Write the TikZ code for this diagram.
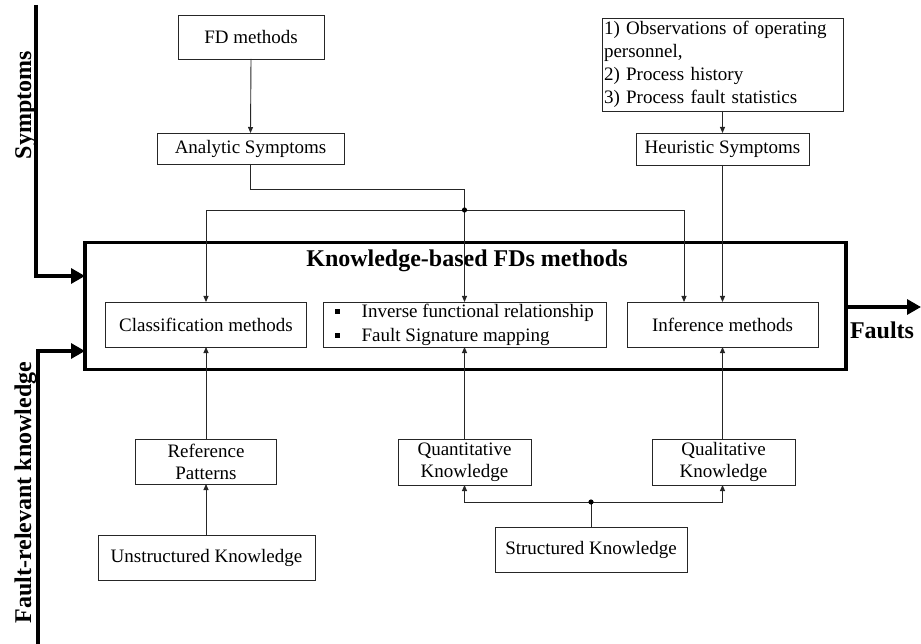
\documentclass[tikz,border=0pt]{standalone}
\usepackage{fontspec}
\setmainfont{Liberation Serif}
\usetikzlibrary{arrows.meta}

\newcommand\sqbullet{\rule[3.5pt]{4.5pt}{4.5pt}}

\tikzset{
  txt/.style={font=\fontsize{19}{22}\selectfont},
  bigbold/.style={font=\fontsize{24}{26}\selectfont\bfseries},
  box/.style={draw=black!85, line width=0.9pt, fill=white, txt, align=center,
              inner sep=1pt, outer sep=0pt},
  arr/.style={draw=black!85, line width=0.9pt, -{Triangle[length=6pt,width=5pt]}},
  link/.style={draw=black!85, line width=0.9pt},
  bigarr/.style={draw=black, line width=3.2pt, -{Triangle[length=14pt,width=15pt]}},
  dot/.style={fill=black}
}

\begin{document}
\begin{tikzpicture}[x=1pt,y=-1pt]
\useasboundingbox (0,0) rectangle (921,644);

% main knowledge-based block
\node[draw=black, line width=3.2pt, minimum width=761pt, minimum height=127pt,
      inner sep=0pt, outer sep=0pt] (main) at (465.5,306) {};
\node[bigbold, anchor=base] (title) at (467,267) {Knowledge-based FDs methods};

% symptom sources
\node[box, minimum width=146pt, minimum height=44pt] (fd) at (251,37) {FD methods};
\node[box, minimum width=187pt, minimum height=31pt] (ana) at (250.5,148.5) {Analytic Symptoms};
\node[box, minimum width=241pt, minimum height=93pt, text width=237pt, align=left,
      inner xsep=2pt, font=\fontsize{19}{23}\selectfont] (obs) at (722.5,64.5)
  {1) Observations of operating\\personnel,\\2) Process history\\3) Process fault statistics};
\node[box, minimum width=173pt, minimum height=32pt] (heu) at (722.5,149) {Heuristic Symptoms};

% methods inside the block
\node[box, minimum width=201pt, minimum height=45pt] (cls) at (206,324.5) {Classification methods};
\node[box, minimum width=283pt, minimum height=45pt, align=left,
      font=\fontsize{19}{24}\selectfont] (inv) at (464.5,324.5)
  {\sqbullet\hspace{22pt}Inverse functional relationship\\\sqbullet\hspace{22pt}Fault Signature mapping};
\node[box, minimum width=191pt, minimum height=45pt] (inf) at (722.5,324.5) {Inference methods};

% knowledge sources
\node[box, minimum width=141pt, minimum height=45pt] (ref) at (206,461.5) {Reference\\Patterns};
\node[box, minimum width=217pt, minimum height=45pt] (unst) at (206.5,557.5) {Unstructured Knowledge};
\node[box, minimum width=133pt, minimum height=46pt] (quan) at (464.5,462) {Quantitative\\Knowledge};
\node[box, minimum width=143pt, minimum height=46pt] (qual) at (723.5,462) {Qualitative\\Knowledge};
\node[box, minimum width=192pt, minimum height=45pt] (str) at (591,549.5) {Structured Knowledge};

% side labels
\node[bigbold, rotate=90, anchor=base] (sym) at (31,105) {Symptoms};
\node[bigbold, rotate=90, anchor=base] (frk) at (31,492.5) {Fault-relevant knowledge};
\node[bigbold, anchor=base] (faults) at (882,338) {Faults};

% symptom connectors
\draw[arr] (fd.south) -- (ana.north);
\draw[arr] (ana.south) -- ++(0,25) -| (inv.north);
\coordinate (j) at (464.5,210);
\coordinate (infin) at ([xshift=-38.5pt]inf.north);
\draw[arr] (j) -| (cls.north);
\draw[arr] (j) -| (infin);
\fill[dot] (j) circle (2.6pt);
\draw[arr] (obs.south) -- (heu.north);
\draw[arr] (heu.south) -- (heu.south |- inf.north);

% knowledge connectors
\draw[arr] (ref.north) -- (cls.south);
\draw[arr] (unst.north -| ref.south) -- (ref.south);
\draw[arr] (quan.north) -- (quan.north |- inv.south);
\draw[arr] (qual.north -| heu.south) -- (heu.south |- inf.south);
\coordinate (k) at (591,502);
\draw[link] (str.north) -- (k);
\draw[arr] (k) -| (quan.south);
\draw[arr] (k) -| (qual.south -| heu.south);
\fill[dot] (k) circle (2.6pt);

% heavy input / output arrows
\coordinate (s0) at (36,5);
\coordinate (f0) at (38,644);
\coordinate (out) at (921,307);
\draw[bigarr] (s0) |- ([yshift=30pt]main.west);
\draw[bigarr] (f0) |- ([yshift=-45pt]main.west);
\draw[bigarr] (main.east |- out) -- (out);
\end{tikzpicture}
\end{document}
